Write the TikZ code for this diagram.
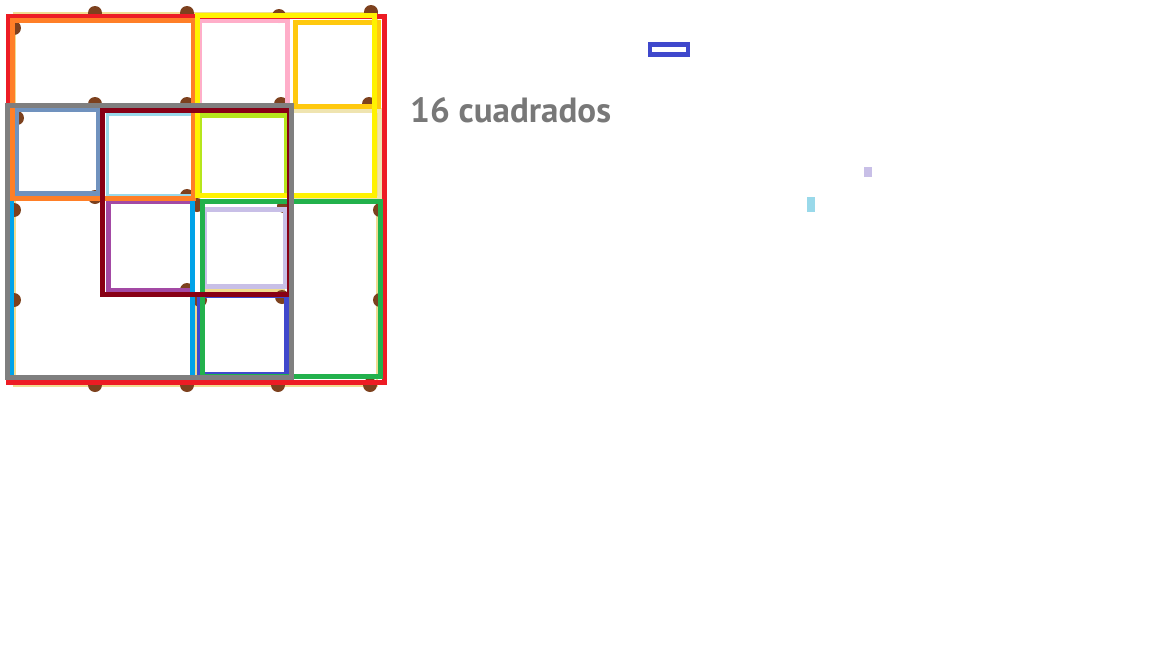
\documentclass[tikz,border=0pt]{standalone}
\usepackage{fontspec}
\setmainfont{PT Sans}
\definecolor{cred}{HTML}{ED1C24}
\definecolor{corange}{HTML}{FF7F27}
\definecolor{cgrey}{HTML}{7F7F7F}
\definecolor{csteel}{HTML}{7092BE}
\definecolor{cmaroon}{HTML}{880015}
\definecolor{clight}{HTML}{99D9EA}
\definecolor{cpink}{HTML}{FFAEC9}
\definecolor{cyellow}{HTML}{FFF200}
\definecolor{cgold}{HTML}{FFC90E}
\definecolor{cbeige}{HTML}{EFE4B0}
\definecolor{clime}{HTML}{B5E61D}
\definecolor{cgreen}{HTML}{22B14C}
\definecolor{clav}{HTML}{C8BFE7}
\definecolor{cblue}{HTML}{3F48CC}
\definecolor{ccyan}{HTML}{00A2E8}
\definecolor{cpurple}{HTML}{A349A4}
\definecolor{cpeg}{RGB}{125,65,30}
\definecolor{cpale}{HTML}{F0DC90}
\definecolor{ctext}{RGB}{120,120,120}
\begin{document}
\begin{tikzpicture}[x=1pt,y=-1pt,
  sq/.style={draw=#1,line width=5pt,line join=miter},
  band/.style={draw=cpale,line width=2.5pt},
  peg/.style={fill=cpeg,draw=none}]
\useasboundingbox (0,0) rectangle (1152,648);
\fill[white] (0,0) rectangle (1152,648);
% pale rubber bands
\draw[band] (14.7,13) rectangle (377,386);
\draw[band] (205,290.5) -- (285,290.5);
\draw[band] (196,297) -- (196,375);
\draw[band] (15,196.8) -- (100,196.8);
% pegs
\foreach \px/\py in {95/13,187/13,279/16,371/12,
  14/28,17/118,14/210,14/300,
  95/104,187/104,281/104,369/104,
  95/197,187/196,
  197/205,284/206,380/210,
  187/290,282/297,200/300,380/300,
  95/385,187/385,278/385,370/385}
  \fill[peg] (\px,\py) circle (7);
% squares, back to front
\draw[sq=cbeige] (291,110.5) rectangle (380,198);
\draw[sq=cpink] (199,20.5) rectangle (287.5,105);
\draw[sq=cgold] (295,22.5) rectangle (378.5,106.5);
\draw[sq=clight,line width=3pt] (107.5,114) rectangle (193,195);
\draw[sq=clime] (199,115.5) rectangle (286,195);
\draw[sq=clav] (204,209.5) rectangle (285.5,286.5);
\draw[sq=cblue] (199,295) rectangle (286.5,374.5);
\draw[sq=cpurple] (108.5,201.5) rectangle (192,290);
\draw[sq=csteel] (16.5,109.5) rectangle (98,193.5);
\draw[sq=cred] (8.5,16.3) rectangle (384.5,382.5);
\draw[sq=cgreen] (202.5,201.5) rectangle (380.5,376.5);
\draw[sq=ccyan,line width=4.5pt] (11.3,198) rectangle (192.5,377);
\draw[sq=corange] (12.5,20.3) rectangle (193.5,198);
\draw[sq=cyellow] (197.5,15.5) rectangle (374.5,195);
\draw[sq=cmaroon] (102.5,110) rectangle (289,294.5);
\draw[sq=cgrey] (7.5,105) rectangle (291,377.5);
% text
\node[anchor=base west,inner sep=0pt,text=ctext,
  font=\fontsize{35}{40}\selectfont\bfseries] (label) at (410,122) {16 cuadrados};
% stray marks on the right
\draw[draw=cblue,line width=4.5pt] (650.2,44.3) rectangle (687.8,54.5);
\fill[clav] (864,167) rectangle (872,177);
\fill[clight] (807,197) rectangle (815,212);
\end{tikzpicture}
\end{document}
